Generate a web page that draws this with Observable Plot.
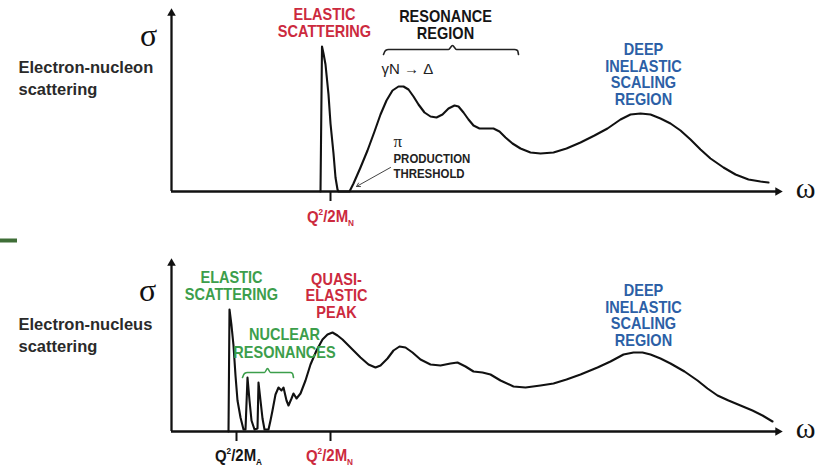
<!DOCTYPE html>
<html><head><meta charset="utf-8">
<script src="https://cdn.jsdelivr.net/npm/d3@7"></script>
<script src="https://cdn.jsdelivr.net/npm/@observablehq/plot@0.6"></script>
<style>body{margin:0;background:#fff}#chart svg{display:block}</style>
</head><body><div id="chart"></div>
<script>
// ---- Data (ω in arbitrary units, σ in arbitrary units) ----
const nucleonOmega = [149,150.5,152,154,157,159,162,164,166,167,178,182,189,196,203,209,215,221,227,232,237,242,247,253,259,265,271,277,283,287,292,297,302,308,315,322,328,334,341,349,359,369,382,395,409,423,436,449,459,469,479,489,499,509,519,529,539,552,564,577,589,597];
const nucleonSigma = [0,145,138,127,97,68,38,14,2,0,0,8,24,41,60,77,91,101,105,105,102,95,87,79,75,74,77,83,86,85,79,72,66,63,63,63,60,54,48,43,39,38,39,43,49,56,63,72,77,78,77,73,68,61,52,42,33,24,17,12,10,9];

const nucleusOmega = [57,58,60,62,64,66,69,72,74,76,78,80,83,86,87,89,91,93,97,99,101,104,107,110,112,115,117,120,122,125,129,134,139,145,151,156,161,166,171,179,189,197,204,209,216,222,228,234,241,249,259,269,279,286,294,302,311,319,329,342,354,369,382,395,409,426,439,452,462,471,479,489,499,513,526,536,546,557,569,581,591,601];
const nucleusSigma = [0,122,106,86,56,31,14,2,2,54,31,11,2,3,49,31,13,2,2,11,21,37,44,41,44,31,26,33,38,33,38,51,67,81,92,97,99,96,92,84,74,67,64,66,73,81,85,84,79,72,67,66,68,69,65,60,59,57,51,45,44,46,48,52,57,64,70,77,79,79,77,73,68,60,51,43,36,31,26,21,16,10];

// axis extents
const topAxisSigmaMax = 183, bottomAxisSigmaMax = 173, axisOmegaMax = 611;

// tick positions (ω)
const topTicks = [{w:159, label:"Q^2/2M_N", color:"red"}];
const bottomTicks = [{w:65, label:"Q^2/2M_A", color:"black"}, {w:159, label:"Q^2/2M_N", color:"red"}];
const topTickLabelX = [159], bottomTickLabelX = [67, 158];

// braces (ω, σ)
const topBraceW = [212,214,217,277,281,285,343,346,347];
const topBraceS = [137,141,142,142,146,142,142,141,137];
const botBraceW = [71,73,76,93,96,99,119,121,122];
const botBraceS = [54,58,59,59,63,59,59,58,54];

// annotation labels
const topLabels = [
  {t:"ELASTIC\nSCATTERING", w:153, s:155, c:"red"},
  {t:"RESONANCE\nREGION", w:274, s:153, c:"black"},
  {t:"DEEP\nINELASTIC\nSCALING\nREGION", w:472, s:87, c:"blue"}
];
const bottomLabels = [
  {t:"ELASTIC\nSCATTERING", w:60, s:132, c:"green"},
  {t:"QUASI-\nELASTIC\nPEAK", w:165, s:114, c:"red"},
  {t:"NUCLEAR\nRESONANCES", w:113, s:74, c:"green", lh:1.06},
  {t:"DEEP\nINELASTIC\nSCALING\nREGION", w:472, s:86, c:"blue"}
];

const COLORS = {red:"#cc2a3e", blue:"#2c5fa6", green:"#3c9e4b", black:"#151515"};
// condensed look: Liberation Sans Bold squeezed horizontally after rendering
const NARROW = "'Liberation Sans',Arial,sans-serif;--narrow";
const NARROW_FAMILY = "'Liberation Sans',Arial,sans-serif";
const SANS = "'Liberation Sans',Arial,sans-serif";
const SERIF = "'Liberation Serif','Times New Roman',serif";

const toPts = (W, S) => W.map((w, i) => ({w, s: S[i]}));

function axes(ymax) {
  return [
    Plot.ruleX([0], {y1: 0, y2: ymax - 4, stroke: "#111", strokeWidth: 2.3}),
    Plot.ruleY([0], {x1: 0, x2: axisOmegaMax - 4, stroke: "#111", strokeWidth: 2.3}),
    Plot.dot([{w: 0, s: ymax - 4.7}], {x: "w", y: "s", symbol: "triangle", r: 3.2, fill: "#111", stroke: null}),
    Plot.dot([{w: axisOmegaMax - 4.7, s: 0}], {x: "w", y: "s", symbol: "triangle", rotate: 90, r: 3.2, fill: "#111", stroke: null})
  ];
}

function labelMarks(labels, size, lhDefault) {
  return labels.map(d => Plot.text([d], {
    x: "w", y: "s", text: "t", fill: COLORS[d.c], fontFamily: NARROW_FAMILY, fontWeight: "bold",
    fontSize: d.fs || size, lineAnchor: "bottom", lineHeight: d.lh || lhDefault, textAnchor: "middle",
    ariaDescription: "narrow"
  }));
}

function tickMarks(ticks, labelX, labelS) {
  return [
    Plot.ruleX(ticks, {x: "w", y1: 0, y2: -10, stroke: "#111", strokeWidth: 2}),
    ...ticks.map((d, i) => Plot.text([d], {
      x: () => labelX[i], y: () => labelS, text: "label", fill: COLORS[d.color],
      fontFamily: NARROW_FAMILY, fontWeight: "bold", fontSize: 17, lineAnchor: "bottom", textAnchor: "middle",
      ariaDescription: "narrow"
    }))
  ];
}

const topPlot = Plot.plot({
  width: 816, height: 246, margin: 0,
  x: {domain: [-171, 645], axis: null},
  y: {domain: [-55, 191], axis: null},
  marks: [
    Plot.ruleY([-49], {x1: -171, x2: -154, stroke: "#3f6e37", strokeWidth: 4}),
    ...axes(topAxisSigmaMax),
    ...tickMarks(topTicks, topTickLabelX, -31),
    Plot.line(toPts(nucleonOmega, nucleonSigma), {x: "w", y: "s", stroke: "#111", strokeWidth: 2.1, strokeLinejoin: "round"}),
    Plot.line(toPts(topBraceW, topBraceS), {x: "w", y: "s", stroke: "#222", strokeWidth: 1.6, curve: "monotone-x"}),
    Plot.arrow([{x1: 219, y1: 24, x2: 185, y2: 5}], {x1: "x1", y1: "y1", x2: "x2", y2: "y2", stroke: "#444", strokeWidth: 1, headLength: 6, bend: 0}),
    Plot.text(["σ"], {x: () => -23, y: () => 146, fontFamily: SERIF, fontSize: 32, fill: "#111", lineAnchor: "bottom"}),
    Plot.text(["ω"], {x: () => 634, y: () => -6, fontFamily: SERIF, fontSize: 30, fill: "#111", lineAnchor: "bottom"}),
    Plot.text(["Electron-nucleon\nscattering"], {x: () => -153, y: () => 97, fontFamily: SANS, fontWeight: "bold", fontSize: 16.5, fill: "#2a2a2a", textAnchor: "start", lineAnchor: "bottom", lineHeight: 1.3}),
    ...labelMarks(topLabels, 16.5, 1.0),
    Plot.text(["γN → Δ"], {x: () => 210, y: () => 118, fontFamily: SANS, fontSize: 15, fill: "#222", textAnchor: "start", lineAnchor: "bottom"}),
    Plot.text(["π"], {x: () => 222, y: () => 45, fontFamily: SERIF, fontSize: 17, fill: "#222", textAnchor: "start", lineAnchor: "bottom"}),
    Plot.text(["PRODUCTION\nTHRESHOLD"], {x: () => 222, y: () => 14, fontFamily: NARROW_FAMILY, fontWeight: "bold", fontSize: 13, fill: "#222", textAnchor: "start", lineAnchor: "bottom", lineHeight: 1.08, ariaDescription: "narrow"})
  ]
});

const bottomPlot = Plot.plot({
  width: 816, height: 223, margin: 0,
  x: {domain: [-171, 645], axis: null},
  y: {domain: [-38, 185], axis: null},
  marks: [
    ...axes(bottomAxisSigmaMax),
    ...tickMarks(bottomTicks, bottomTickLabelX, -30),
    Plot.line(toPts(nucleusOmega, nucleusSigma), {x: "w", y: "s", stroke: "#111", strokeWidth: 2.1, strokeLinejoin: "round"}),
    Plot.line(toPts(botBraceW, botBraceS), {x: "w", y: "s", stroke: COLORS.green, strokeWidth: 1.6, curve: "monotone-x"}),
    Plot.text(["σ"], {x: () => -24, y: () => 131, fontFamily: SERIF, fontSize: 32, fill: "#111", lineAnchor: "bottom"}),
    Plot.text(["ω"], {x: () => 634, y: () => -6, fontFamily: SERIF, fontSize: 30, fill: "#111", lineAnchor: "bottom"}),
    Plot.text(["Electron-nucleus\nscattering"], {x: () => -153, y: () => 80, fontFamily: SANS, fontWeight: "bold", fontSize: 16.5, fill: "#2a2a2a", textAnchor: "start", lineAnchor: "bottom", lineHeight: 1.3}),
    ...labelMarks(bottomLabels, 16.5, 1.0)
  ]
});

// post-processing: Q²/2M sub/superscripts and condensed lettering
function finish(svg) {
  const sel = d3.select(svg);
  sel.selectAll("text").each(function() {
    const m = /^Q\^2\/2M_([A-Z])$/.exec(this.textContent);
    if (!m) return;
    const t = d3.select(this);
    t.text(null);
    t.append("tspan").text("Q");
    t.append("tspan").attr("font-size", "0.55em").attr("dy", "-0.75em").text("2");
    t.append("tspan").attr("dy", "0.41em").text("/2M");
    t.append("tspan").attr("font-size", "0.55em").attr("dy", "0.35em").text(m[1]);
  });
  sel.selectAll("g[aria-description='narrow'] text").each(function() {
    const tr = this.getAttribute("transform") || "";
    this.setAttribute("transform", tr + " scale(0.88,1)");
  });
}
finish(topPlot); finish(bottomPlot);

const chart = document.getElementById("chart");
chart.append(topPlot, bottomPlot);
</script>
</body></html>
